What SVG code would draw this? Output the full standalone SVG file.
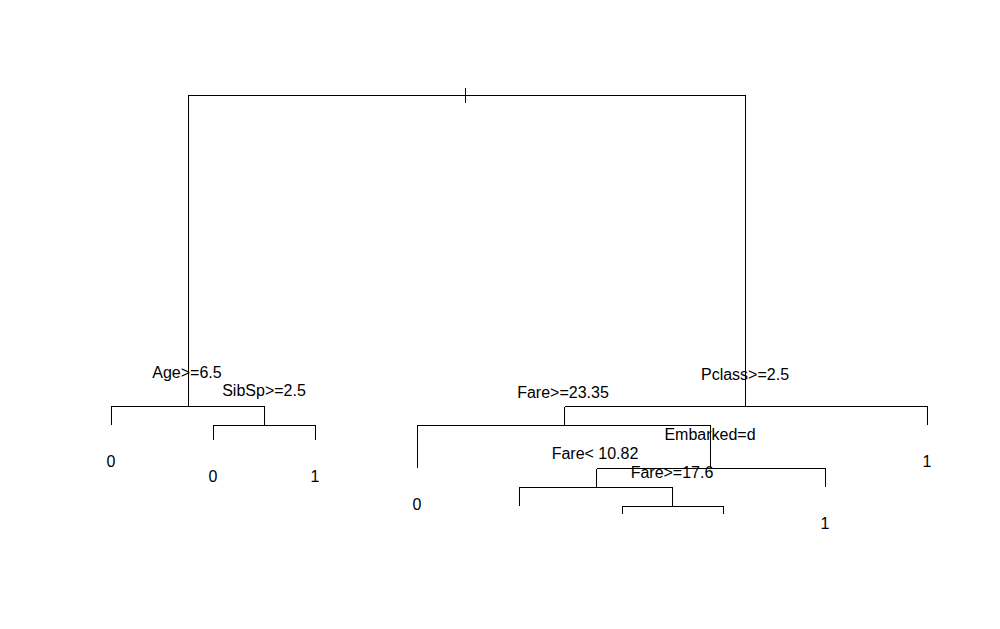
<svg xmlns="http://www.w3.org/2000/svg" width="1000" height="629" viewBox="0 0 1000 629">
<style>
.e{fill:none;stroke:#000;stroke-width:1;shape-rendering:crispEdges}
text{font-family:"Liberation Sans",Arial,sans-serif;font-size:16px;fill:#000;text-anchor:middle}
</style>
<rect width="1000" height="629" fill="#fff"/>
<g id="connectors">
<path class="e" d="M188,406 V95.5 H745.5 V406"/>
<path class="e" d="M465.5,88 V103"/>
<path class="e" d="M111.5,425 V406.5 H264.5 V425.5"/>
<path class="e" d="M213.5,440 V425.5 H315.5 V440"/>
<path class="e" d="M564.5,406.5 H927.5 V425"/>
<path class="e" d="M564.5,406.5 V425.5"/>
<path class="e" d="M417.5,468 V425.5 H710.5 V468"/>
<path class="e" d="M596.5,468.5 H825.5 V487"/>
<path class="e" d="M596.5,468.5 V487"/>
<path class="e" d="M519.5,506 V487.5 H672.5 V506"/>
<path class="e" d="M622.5,514 V506.5 H723.5 V514"/>
</g>
<g id="n-age"><text x="187" y="378">Age&gt;=6.5</text></g>
<g id="n-sibsp"><text x="264" y="396">SibSp&gt;=2.5</text></g>
<g id="leaf-1"><text x="111" y="467">0</text></g>
<g id="leaf-2"><text x="213" y="482">0</text></g>
<g id="leaf-3"><text x="315" y="482">1</text></g>
<g id="n-pclass"><text x="745" y="380">Pclass&gt;=2.5</text></g>
<g id="n-fare2335"><text x="563" y="398">Fare&gt;=23.35</text></g>
<g id="leaf-4"><text x="417" y="510">0</text></g>
<g id="n-embarked"><text x="710" y="440">Embarked=d</text></g>
<g id="n-fare1082"><text x="595" y="459">Fare&lt; 10.82</text></g>
<g id="n-fare176"><text x="672" y="478">Fare&gt;=17.6</text></g>
<g id="leaf-5"><text x="825" y="529">1</text></g>
<g id="leaf-6"><text x="927" y="467">1</text></g>
</svg>
